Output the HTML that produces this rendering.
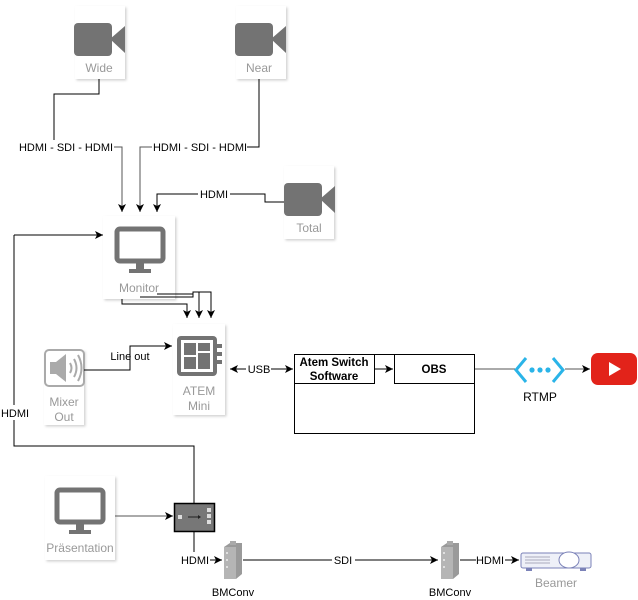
<!DOCTYPE html>
<html><head><meta charset="utf-8"><style>
html,body{margin:0;padding:0;background:#fff;}
svg{display:block;font-family:"Liberation Sans",Arial,sans-serif;}
</style></head><body>
<svg width="638" height="600" viewBox="0 0 638 600" xmlns="http://www.w3.org/2000/svg">
<defs>
<marker id="a" markerWidth="10" markerHeight="10" refX="8" refY="5" orient="auto" markerUnits="userSpaceOnUse"><path d="M0,1 L8,5 L0,9 L2,5 Z" fill="#000"/></marker>
<marker id="as" markerWidth="10" markerHeight="10" refX="0" refY="5" orient="auto" markerUnits="userSpaceOnUse"><path d="M8,1 L0,5 L8,9 L6,5 Z" fill="#000"/></marker>
<filter id="sh" x="-20%" y="-20%" width="150%" height="150%"><feDropShadow dx="1.5" dy="1.5" stdDeviation="1.2" flood-color="#000" flood-opacity="0.18"/></filter>
<g id="cam"><rect x="0" y="0" width="38" height="33" rx="4" fill="#737373"/><path d="M36,16 L51,3 L51,30 Z" fill="#737373"/></g>
<g id="mon"><rect x="2" y="2" width="46" height="32" rx="3" fill="none" stroke="#737373" stroke-width="5"/><rect x="21" y="36" width="8" height="6" fill="#737373"/><rect x="14" y="42" width="22" height="4" fill="#737373"/></g>
</defs>

<!-- cards -->
<g filter="url(#sh)" fill="#fff">
<rect x="75" y="6" width="50" height="73"/>
<rect x="236" y="6" width="50" height="73"/>
<rect x="284" y="166" width="50" height="73"/>
<rect x="103" y="216" width="72" height="83"/>
<rect x="173" y="324" width="52" height="91"/>
<rect x="44" y="350" width="40" height="75"/>
<rect x="45" y="476" width="70" height="84"/>
</g>

<use href="#cam" x="74" y="23"/>
<use href="#cam" x="235" y="23"/>
<use href="#cam" x="284" y="183"/>
<use href="#mon" x="115" y="227"/>
<use href="#mon" x="55" y="488"/>

<g font-size="12" fill="#999" text-anchor="middle">
<text x="99" y="72">Wide</text>
<text x="259" y="72">Near</text>
<text x="309" y="232">Total</text>
<text x="139" y="292">Monitor</text>
<text x="199" y="395">ATEM</text>
<text x="199" y="410">Mini</text>
<text x="64" y="406">Mixer</text>
<text x="64" y="421">Out</text>
<text x="80" y="552">Präsentation</text>
<text x="556" y="587">Beamer</text>
</g>

<!-- ATEM icon -->
<rect x="177" y="336" width="40" height="40" rx="4" fill="#737373"/>
<rect x="181" y="340" width="32" height="32" fill="#fff"/>
<rect x="184" y="343" width="12" height="12" fill="#737373"/><rect x="198" y="343" width="12" height="8" fill="#737373"/>
<rect x="184" y="357" width="12" height="12" fill="#737373"/><rect x="198" y="353" width="12" height="16" fill="#737373"/>
<rect x="217" y="344" width="5" height="4" fill="#737373"/><rect x="217" y="352" width="5" height="4" fill="#737373"/><rect x="217" y="360" width="5" height="4" fill="#737373"/>

<!-- speaker -->
<rect x="45" y="350" width="39" height="36" rx="4" fill="none" stroke="#aaa" stroke-width="2"/>
<path d="M50,362 H56 L66,354 V382 L56,374 H50 Z" fill="#aaa"/>
<path d="M70,363 Q73,368 70,373 M74,359 Q79,368 74,377 M78,355 Q85,368 78,381" fill="none" stroke="#aaa" stroke-width="2"/>

<!-- connectors -->
<g fill="none" stroke="#000" stroke-width="1">
<path d="M99,79 V94 H54 V140"/>
<path d="M113,147 H122 V212" stroke="#555" marker-end="url(#a)"/>
<path d="M259,79 V147 H247"/>
<path d="M152,147 H140 V212" stroke="#555" marker-end="url(#a)"/>
<path d="M284,202 H265 V194 H230"/>
<path d="M198,194 H157 V212" marker-end="url(#a)"/>
<path d="M14,235 H103" marker-end="url(#a)"/>
<path d="M14,235 V405"/>
<path d="M14,420 V446 H194 V503"/>
<path d="M122,299 V304 H187 V318" marker-end="url(#a)"/>
<path d="M140,297 H193 V292 H199 V318" marker-end="url(#a)"/>
<path d="M157,294 H193 M199,292 H211 V318" marker-end="url(#a)"/>
<path d="M84,370 H130 V346 H172" marker-end="url(#a)"/>
<path d="M230,369 H246" marker-start="url(#as)"/>
<path d="M271,369 H293" marker-end="url(#a)"/>
<path d="M374,369 H393" marker-end="url(#a)"/>
<path d="M474,369 H515" stroke="#555"/>
<path d="M565,369 H590" stroke="#555" marker-end="url(#a)"/>
<path d="M115,516 H173" stroke="#555" marker-end="url(#a)"/>
<path d="M194,531 V552"/>
<path d="M210,560 H222" marker-end="url(#a)"/>
<path d="M243,560 H332 M355,560 H438" marker-end="url(#a)"/>
<path d="M460,560 H476 M505,560 H519" marker-end="url(#a)"/>
</g>

<g font-size="11" fill="#000" text-anchor="middle">
<rect x="18" y="140" width="96" height="14" fill="#fff"/>
<text x="66" y="151">HDMI - SDI - HDMI</text>
<text x="200" y="151">HDMI - SDI - HDMI</text>
<text x="214" y="198">HDMI</text>
<text x="15" y="417">HDMI</text>
<text x="130" y="360">Line out</text>
<text x="259" y="373">USB</text>
<text x="195" y="564">HDMI</text>
<text x="343" y="564">SDI</text>
<text x="490" y="564">HDMI</text>
<text x="233" y="596">BMConv</text>
<text x="450" y="596">BMConv</text>
<text x="540" y="401" font-size="12">RTMP</text>
</g>

<!-- software boxes -->
<rect x="294.5" y="354.5" width="180" height="79" fill="none" stroke="#000"/>
<rect x="294.5" y="354.5" width="80" height="29" fill="#fff" stroke="#000"/>
<rect x="394.5" y="354.5" width="80" height="29" fill="#fff" stroke="#000"/>
<g font-size="11.5" font-weight="bold" text-anchor="middle">
<text x="334" y="366">Atem Switch</text>
<text x="334" y="380">Software</text>
<text x="434" y="373">OBS</text>
</g>

<!-- RTMP icon -->
<path d="M526,358 L516,370 L526,382 M553,358 L563,370 L553,382" fill="none" stroke="#2ab4e8" stroke-width="3"/>
<circle cx="532" cy="370" r="2.6" fill="#2ab4e8"/><circle cx="540" cy="370" r="2.6" fill="#2ab4e8"/><circle cx="548" cy="370" r="2.6" fill="#2ab4e8"/>

<!-- YouTube -->
<rect x="591" y="353" width="46" height="32" rx="7" fill="#e2231a"/>
<path d="M609,362 L621,369 L609,376 Z" fill="#fff"/>

<!-- switch box -->
<rect x="174.5" y="503.5" width="40" height="28" fill="#777" stroke="#000" stroke-width="1.5"/>
<rect x="178" y="515" width="4" height="4" fill="#ddd"/>
<path d="M188,517 H200" stroke="#222"/><path d="M198,515 L201,517 L198,519 Z" fill="#222"/>
<rect x="207" y="508" width="4" height="4" fill="#ddd"/><rect x="207" y="514" width="4" height="4" fill="#ddd"/><rect x="207" y="520" width="4" height="4" fill="#ddd"/>

<!-- BMConv devices -->
<g id="bm">
<path d="M224,547 L230,543 H242 V574 L236,579 H224 Z" fill="#9a9a9a"/>
<rect x="224" y="547" width="12" height="32" fill="#b5b5b5"/>
<rect x="230" y="541" width="6" height="4" fill="#aaa"/>
<circle cx="227" cy="553" r="1" fill="#eee"/><circle cx="227" cy="560" r="1" fill="#eee"/><circle cx="227" cy="567" r="1" fill="#eee"/>
</g>
<use href="#bm" x="217" y="0"/>

<!-- Beamer -->
<rect x="521" y="553" width="70" height="15" rx="2" fill="#eef0f8" stroke="#7b82b8"/>
<path d="M525,557 H550 M525,560 H550 M525,563 H550" stroke="#aab"/>
<ellipse cx="569" cy="560" rx="10" ry="8" fill="#fff" stroke="#7b82b8"/>
<rect x="526" y="568" width="6" height="3" fill="#7b82b8"/><rect x="580" y="568" width="6" height="3" fill="#7b82b8"/>
</svg>
</body></html>
